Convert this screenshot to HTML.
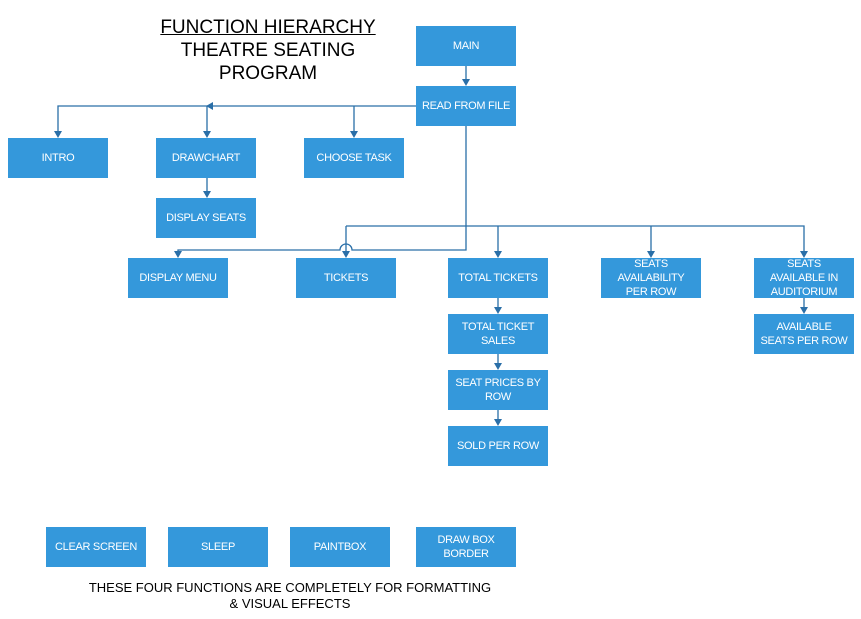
<!DOCTYPE html>
<html><head><meta charset="utf-8"><style>
body{margin:0;width:861px;height:619px;background:#fff;position:relative;overflow:hidden;font-family:"Liberation Sans",Arial,sans-serif}
.b{position:absolute;width:100px;height:40px;background:#3498db;color:#fff;font-size:11px;display:flex;align-items:center;justify-content:center;text-align:center;line-height:14px;letter-spacing:-0.3px}
.t{position:absolute;left:130px;width:276px;text-align:center;font-size:19px;color:#000;line-height:23px}
</style></head><body>
<div class="t" style="top:16px"><u>FUNCTION HIERARCHY</u><br>THEATRE SEATING<br>PROGRAM</div>
<svg width="861" height="619" style="position:absolute;left:0;top:0" fill="#2a6fa8">
<g stroke="#2a6fa8" stroke-width="1.3" fill="none">
<path d="M466 66V80"/>
<path d="M416 106H58V132M207 106V132M354 106V132"/>
<path d="M207 178V192"/>
<path d="M466 126V250H352A6 6 0 0 0 340 250H178V252"/>
<path d="M346 226H804V252M346 226V252M498 226V252M651 226V252"/>
<path d="M498 298V308M498 354V364M498 410V420M804 298V308"/>
</g>
<path d="M462 79h8l-4 7z"/>
<path d="M54 131h8l-4 7zM203 131h8l-4 7zM350 131h8l-4 7zM203 191h8l-4 7z"/>
<path d="M213 102v8l-7-4z"/>
<path d="M174 251h8l-4 7zM342 251h8l-4 7zM494 251h8l-4 7zM647 251h8l-4 7zM800 251h8l-4 7z"/>
<path d="M494 307h8l-4 7zM494 363h8l-4 7zM494 419h8l-4 7zM800 307h8l-4 7z"/>
</svg>
<div class="b" style="left:416px;top:26px">MAIN</div>
<div class="b" style="left:416px;top:86px">READ FROM FILE</div>
<div class="b" style="left:8px;top:138px">INTRO</div>
<div class="b" style="left:156px;top:138px">DRAWCHART</div>
<div class="b" style="left:304px;top:138px">CHOOSE TASK</div>
<div class="b" style="left:156px;top:198px">DISPLAY SEATS</div>
<div class="b" style="left:128px;top:258px">DISPLAY MENU</div>
<div class="b" style="left:296px;top:258px">TICKETS</div>
<div class="b" style="left:448px;top:258px">TOTAL TICKETS</div>
<div class="b" style="left:601px;top:258px">SEATS<br>AVAILABILITY<br>PER ROW</div>
<div class="b" style="left:754px;top:258px">SEATS<br>AVAILABLE IN<br>AUDITORIUM</div>
<div class="b" style="left:448px;top:314px">TOTAL TICKET<br>SALES</div>
<div class="b" style="left:448px;top:370px">SEAT PRICES BY<br>ROW</div>
<div class="b" style="left:448px;top:426px">SOLD PER ROW</div>
<div class="b" style="left:754px;top:314px">AVAILABLE<br>SEATS PER ROW</div>
<div class="b" style="left:46px;top:527px">CLEAR SCREEN</div>
<div class="b" style="left:168px;top:527px">SLEEP</div>
<div class="b" style="left:290px;top:527px">PAINTBOX</div>
<div class="b" style="left:416px;top:527px">DRAW BOX<br>BORDER</div>
<div style="position:absolute;left:60px;width:460px;top:580px;text-align:center;font-size:13px;line-height:16px;color:#000">THESE FOUR FUNCTIONS ARE COMPLETELY FOR FORMATTING<br>&amp; VISUAL EFFECTS</div>
</body></html>
